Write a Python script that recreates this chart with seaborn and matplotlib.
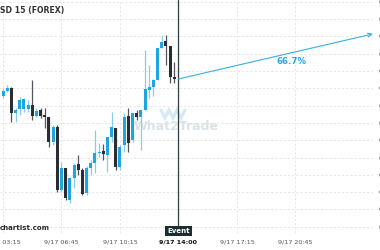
import numpy as np
import pandas as pd
import matplotlib
matplotlib.use("Agg")
import matplotlib.pyplot as plt
import matplotlib.transforms as mtransforms
from matplotlib.ticker import MultipleLocator, FormatStrFormatter
import seaborn as sns

# ---------------- data ----------------
start_time = "2019-09-17 03:00"
opens  = [0.68375, 0.68377, 0.68392, 0.68401, 0.68328, 0.68340, 0.68340, 0.68340, 0.68351, 0.68320,
          0.68337, 0.68323, 0.68317, 0.68245, 0.68288, 0.68106, 0.68169, 0.68077, 0.68141, 0.68181,
          0.68164, 0.68097, 0.68169, 0.68184, 0.68213, 0.68219, 0.68207, 0.68259, 0.68285, 0.68172,
          0.68236, 0.68320, 0.68250, 0.68328, 0.68317, 0.68337, 0.68395, 0.68403, 0.68424, 0.68516,
          0.68536, 0.68522, 0.68432]
highs  = [0.68389, 0.68401, 0.68409, 0.68403, 0.68343, 0.68375, 0.68372, 0.68366, 0.68424, 0.68343,
          0.68343, 0.68343, 0.68317, 0.68294, 0.68294, 0.68187, 0.68169, 0.68143, 0.68184, 0.68207,
          0.68169, 0.68175, 0.68193, 0.68279, 0.68242, 0.68239, 0.68259, 0.68331, 0.68285, 0.68236,
          0.68328, 0.68343, 0.68328, 0.68337, 0.68337, 0.68510, 0.68467, 0.68427, 0.68516, 0.68554,
          0.68554, 0.68522, 0.68476]
lows   = [0.68369, 0.68372, 0.68389, 0.68302, 0.68302, 0.68323, 0.68331, 0.68331, 0.68308, 0.68317,
          0.68314, 0.68285, 0.68230, 0.68236, 0.68100, 0.68100, 0.68077, 0.68068, 0.68112, 0.68149,
          0.68091, 0.68091, 0.68149, 0.68155, 0.68201, 0.68193, 0.68158, 0.68245, 0.68164, 0.68164,
          0.68216, 0.68216, 0.68245, 0.68308, 0.68221, 0.68337, 0.68372, 0.68377, 0.68424, 0.68516,
          0.68467, 0.68415, 0.68415]
closes = [0.68386, 0.68392, 0.68401, 0.68328, 0.68337, 0.68366, 0.68369, 0.68351, 0.68320, 0.68334,
          0.68320, 0.68317, 0.68245, 0.68288, 0.68106, 0.68169, 0.68083, 0.68141, 0.68178, 0.68164,
          0.68094, 0.68169, 0.68184, 0.68213, 0.68216, 0.68210, 0.68259, 0.68288, 0.68172, 0.68230,
          0.68317, 0.68242, 0.68328, 0.68317, 0.68337, 0.68398, 0.68403, 0.68424, 0.68516, 0.68534,
          0.68522, 0.68432, 0.68427]

tick_times  = ["03:15", "06:45", "10:15", "13:45", "17:15", "20:45"]
tick_labels = ["9/17 03:15", "9/17 06:45", "9/17 10:15", "9/17 14:00", "9/17 17:15", "9/17 20:45"]
event_time = "13:45"
event_label = "Event"
arrow_end_time = "2019-09-18 01:23"
arrow_end_price = 0.68557
arrow_text = "66.7%"
title_text = "SD 15 (FOREX)"
source_text = "chartist.com"
watermark_text = "What2Trade"

# ---------------- helpers ----------------
def to_hours(ts):
    ts = pd.Timestamp(ts)
    base = pd.Timestamp("2019-09-17 00:00")
    return (ts - base).total_seconds() / 3600.0

times = pd.date_range(start_time, periods=len(opens), freq="15min")
df = pd.DataFrame({"time": times, "open": opens, "high": highs, "low": lows, "close": closes})
df["x"] = [to_hours(t) for t in df["time"]]
df["up"] = df["close"] >= df["open"]

tick_x = [to_hours("2019-09-17 " + t) for t in tick_times]
event_x = to_hours("2019-09-17 " + event_time)
arrow_x1 = to_hours(arrow_end_time)

# ---------------- style ----------------
sns.set_theme(style="white")
plt.rcParams["font.family"] = ["DejaVu Sans"]

BLUE = "#1fa6e0"
BLUE_WICK = "#86cdef"
DARK = "#2b2c34"
DARK_WICK = "#55565c"
GRID = "#e2e2e2"

fig = plt.figure(figsize=(3.8, 2.5), dpi=100)
ax = fig.add_axes([0.0, 17 / 250, 373 / 380, 233 / 250])

ax.set_xlim(3.07, 25.39)
ax.set_ylim(0.67982, 0.68655)

# grid
ax.yaxis.set_major_locator(MultipleLocator(0.0005))
ax.yaxis.set_major_formatter(FormatStrFormatter("%.4f"))
ax.set_xticks(tick_x)
ax.set_xticklabels(tick_labels)
ax.grid(True, color=GRID, linestyle=(0, (2.5, 2.5)), linewidth=0.6)
ax.set_axisbelow(True)
for s in ax.spines.values():
    s.set_visible(False)
ax.yaxis.tick_right()
ax.tick_params(axis="y", labelsize=4.6, length=0, pad=4.2, colors="#555555")
ax.tick_params(axis="x", labelsize=4.6, length=0, pad=4.5, colors="#555555")
for i, lab in enumerate(ax.get_xticklabels()):
    if tick_times[i] == event_time:
        lab.set_fontweight("bold")
        lab.set_color("#111111")

# watermark
ax.text(176 / 380, 1 - 126 / 250, watermark_text, transform=fig.transFigure,
        ha="center", va="center", fontsize=9, fontweight="bold", color="#dbe3e8", zorder=0.5)
wm_x = np.array([161, 165, 169, 173, 177, 181, 185]) / 380
wm_y = 1 - np.array([110, 118, 110, 118, 110, 118, 110]) / 250
ax.plot(wm_x, wm_y, transform=fig.transFigure, color="#d3e9f5", lw=2.2, zorder=0.5,
        solid_joinstyle="miter")

# candles
bw = 0.18
for _, r in df.iterrows():
    col = BLUE if r["up"] else DARK
    wcol = BLUE_WICK if r["up"] else DARK_WICK
    ax.vlines(r["x"], r["low"], r["high"], color=wcol, lw=0.9, zorder=2)
    lo = min(r["open"], r["close"])
    h = max(abs(r["close"] - r["open"]), 0.000025)
    ax.bar(r["x"], h, bottom=lo, width=bw, color=col, linewidth=0, zorder=3)

# event line
ax.axvline(event_x, color="#2f3b40", lw=0.9, zorder=4)
blend = mtransforms.blended_transform_factory(ax.transData, ax.transAxes)
ax.text(event_x, 2 / 233, event_label, transform=blend, ha="center", va="center",
        fontsize=5, fontweight="bold", color="white", zorder=6, clip_on=False,
        bbox=dict(boxstyle="square,pad=0.3", fc="#1b2e32", ec="none"))

# forecast arrow
y0 = closes[-1]
ax.annotate("", xy=(arrow_x1, arrow_end_price), xytext=(event_x, y0),
            arrowprops=dict(arrowstyle="->", color="#3aaee2", lw=0.8, mutation_scale=7,
                            shrinkA=0, shrinkB=0), zorder=5)
frac = 0.58
ax.annotate(arrow_text, xy=(event_x + frac * (arrow_x1 - event_x), y0 + frac * (arrow_end_price - y0)),
            xytext=(0, -6.5), textcoords="offset points", ha="center", va="center",
            fontsize=6.2, fontweight="bold", color="#2aa7e0", zorder=5)

# texts outside
fig.text(0.0, 1 - 10 / 250, title_text, ha="left", va="center", fontsize=5.6,
         fontweight="bold", color="#333333")
fig.text(0.0, 1 - 228 / 250, source_text, ha="left", va="center", fontsize=5,
         fontweight="bold", color="#2a2a2a")

fig.savefig("out.png", dpi=100)
